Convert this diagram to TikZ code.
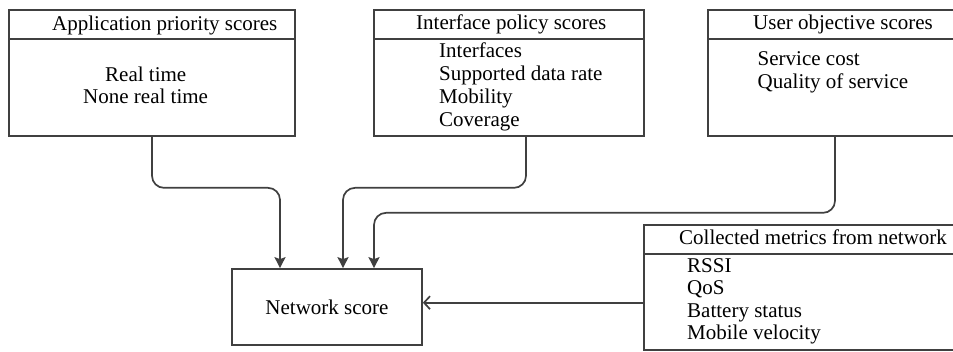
\documentclass[tikz,border=0pt]{standalone}
\usepackage{fontspec}
\setmainfont{Liberation Serif}
\usetikzlibrary{arrows.meta}

\tikzset{
  scorebox/.style={draw=linegray, line width=1.7pt, rectangle, inner sep=0pt},
  item/.style={anchor=base west, inner sep=0pt},
  head/.style={anchor=base west, inner sep=0pt},
  flow/.style={draw=linegray, line width=1.7pt, rounded corners=12pt,
    -{Stealth[length=11pt,width=11pt,inset=2pt]}},
  feed/.style={draw=linegray, line width=1.7pt, -{Straight Barb[length=6pt,width=13pt]}}
}
\definecolor{linegray}{HTML}{404040}

\begin{document}
\begin{tikzpicture}[x=1pt,y=-1pt,font=\fontsize{21}{22.7}\selectfont]
    \useasboundingbox (0,0) rectangle (953,352);
    \clip (0,0) rectangle (953,352);

    % boxes
    \node[scorebox, minimum width=286pt, minimum height=126pt] (app) at (152,73) {};
    \node[scorebox, minimum width=270pt, minimum height=126pt] (iface) at (509,73) {};
    \node[scorebox, minimum width=252pt, minimum height=126pt] (user) at (834,73) {};
    \node[scorebox, minimum width=316pt, minimum height=125pt] (metrics) at (802,287.5) {};
    \node[scorebox, minimum width=190pt, minimum height=76pt] (net) at (327,307) {Network score};

    % header rules
    \draw[linegray, line width=1.7pt] (app.west |- 0,39) -- (app.east |- 0,39);
    \draw[linegray, line width=1.7pt] (iface.west |- 0,39) -- (iface.east |- 0,39);
    \draw[linegray, line width=1.7pt] (user.west |- 0,39) -- (user.east |- 0,39);
    \draw[linegray, line width=1.7pt] (metrics.west |- 0,254) -- (metrics.east |- 0,254);

    % headers
    \node[head] (apphead) at (52,31) {Application priority scores};
    \node[head] (ifacehead) at (416,29.5) {Interface policy scores};
    \node[head] (userhead) at (753,30) {User objective scores};
    \node[head] (metricshead) at (679,245) {Collected metrics from network};

    % entries
    \node[item] (rt) at (105,81.7) {Real time};
    \node[item] (nrt) at (83,103.5) {None real time};

    \node[item] (if1) at (439,58) {Interfaces};
    \node[item] (if2) at (439,81) {Supported data rate};
    \node[item] (if3) at (439,104) {Mobility};
    \node[item] (if4) at (439,127) {Coverage};

    \node[item] (uo1) at (757.5,66) {Service cost};
    \node[item] (uo2) at (757.5,88.5) {Quality of service};

    \node[item] (cm1) at (687,272.7) {RSSI};
    \node[item] (cm2) at (687,295) {QoS};
    \node[item] (cm3) at (687,317.5) {Battery status};
    \node[item] (cm4) at (687,340) {Mobile velocity};

    % inputs of the network score
    \coordinate (netA) at ([xshift=-47pt]net.north);
    \coordinate (netB) at ([xshift=16pt]net.north);
    \coordinate (netC) at ([xshift=47pt]net.north);
    \coordinate (ifaceout) at ([xshift=17pt]iface.south);
    \coordinate (userout) at ([xshift=1pt]user.south);

    \draw[flow] (app.south) -- ++(0,51) -| (netA);
    \draw[flow] (ifaceout) -- ++(0,51) -| (netB);
    \draw[flow] (userout) -- ++(0,76) -| (netC);
    \draw[feed] (metrics.west |- 0,302.7) -- (net.east |- 0,302.7);
\end{tikzpicture}
\end{document}
